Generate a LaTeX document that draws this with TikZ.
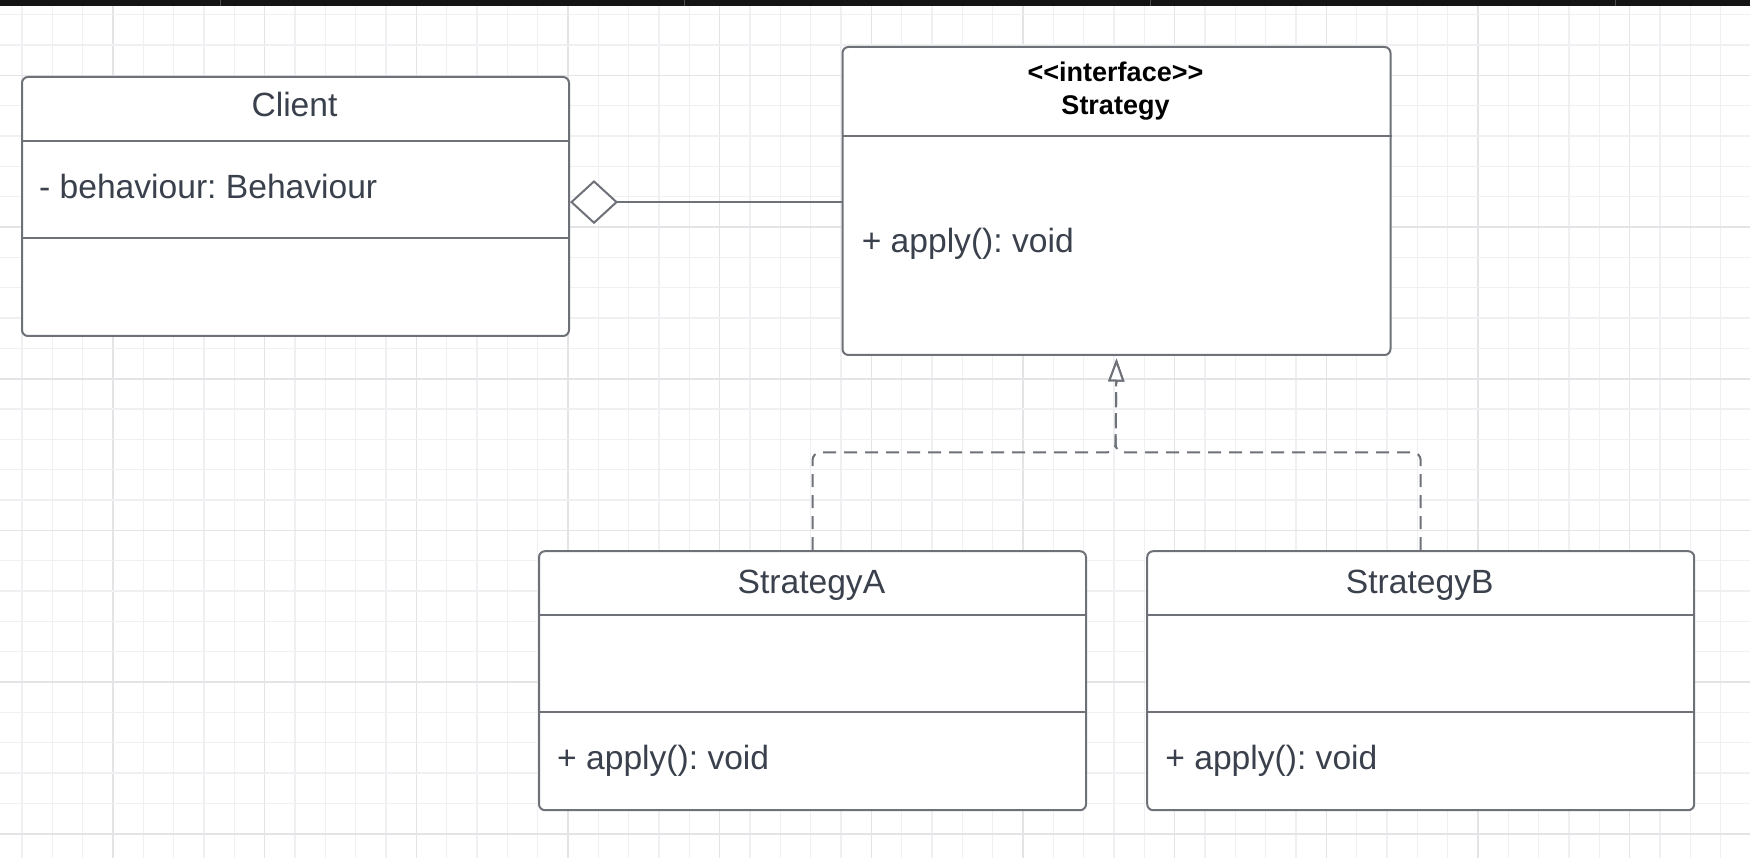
\documentclass[tikz,border=0pt]{standalone}
\usepackage{fontspec}
\setmainfont{Liberation Sans}
\usetikzlibrary{arrows.meta}
\frenchspacing
\definecolor{boxline}{RGB}{110,113,120}
\definecolor{txtcol}{RGB}{58,65,76}
\definecolor{gridmaj}{RGB}{228,228,231}
\definecolor{gridmin}{RGB}{240,240,242}
\tikzset{
  classbox/.style={draw=boxline, line width=2pt, fill=white, rounded corners=6pt, inner sep=0pt, anchor=north west},
  divider/.style={draw=boxline, line width=2pt},
  txt/.style={inner sep=0pt, text=txtcol, font=\fontsize{33.6pt}{40pt}\selectfont},
  btxt/.style={inner sep=0pt, text=black, font=\fontsize{27pt}{32pt}\selectfont\bfseries, anchor=base},
  majline/.style={draw=gridmaj, line width=1.6pt},
  minline/.style={draw=gridmin, line width=1.4pt},
  aggr/.style={draw=boxline, line width=2pt, {Diamond[fill=white, length=48pt, width=44pt]}-},
  realiz/.style={draw=boxline, line width=2pt, dash pattern=on 13pt off 8pt, rounded corners=8pt, -{Triangle[fill=white, length=23pt, width=16pt]}}
}
\begin{document}
\begin{tikzpicture}[x=1pt, y=-1pt]
\useasboundingbox (0,0) rectangle (1750,858);
\fill[white] (0,0) rectangle (1750,858);
% grid
\foreach \n in {-4,...,54} {
  \pgfmathsetmacro\gx{113+30.333*\n}
  \pgfmathtruncatemacro\m{mod(\n+100,5)}
  \ifnum\m=0 \draw[majline] (\gx,0) -- (\gx,858); \else \draw[minline] (\gx,0) -- (\gx,858); \fi
}
\foreach \n in {-13,...,16} {
  \pgfmathsetmacro\gy{378.7+30.333*\n}
  \pgfmathtruncatemacro\m{mod(\n+100,5)}
  \ifnum\m=0 \draw[majline] (0,\gy) -- (1750,\gy); \else \draw[minline] (0,\gy) -- (1750,\gy); \fi
}
% top bar
\fill[black!92] (0,0) rectangle (1750,6.5);
\foreach \bx in {220,684,1150,1615} { \draw[black!70, line width=1pt] (\bx,0) -- (\bx,6.5); }

% Client
\node[classbox, minimum width=547pt, minimum height=259pt] (client) at (21,76) {};
\draw[divider] (client.west |- 0,140.6) -- (client.east |- 0,140.6);
\draw[divider] (client.west |- 0,237.7) -- (client.east |- 0,237.7);
\node[txt, anchor=base] (clientname) at (294.5,117) {Client};
\node[txt, anchor=base west] (clientattr) at (39,198.5) {- behaviour: Behaviour};

% Strategy interface
\node[classbox, minimum width=548pt, minimum height=308pt] (strategy) at (841.5,46) {};
\draw[divider] (strategy.west |- 0,136.2) -- (strategy.east |- 0,136.2);
\node[btxt] (stereo) at (1115.5,82) {<{}<interface>{}>};
\node[btxt] (stratname) at (1115.5,114.5) {Strategy};
\node[txt, anchor=base west] (stratop) at (861.6,253) {+ apply(): void};

% StrategyA
\node[classbox, minimum width=547pt, minimum height=259pt] (sa) at (538,550.2) {};
\draw[divider] (sa.west |- 0,615) -- (sa.east |- 0,615);
\draw[divider] (sa.west |- 0,712.1) -- (sa.east |- 0,712.1);
\node[txt, anchor=base] (saname) at (811.4,593.5) {StrategyA};
\node[txt, anchor=base west] (saop) at (557,769.8) {+ apply(): void};

% StrategyB
\node[classbox, minimum width=547pt, minimum height=259pt] (sb) at (1146.2,550.2) {};
\draw[divider] (sb.west |- 0,615) -- (sb.east |- 0,615);
\draw[divider] (sb.west |- 0,712.1) -- (sb.east |- 0,712.1);
\node[txt, anchor=base] (sbname) at (1419.7,593.5) {StrategyB};
\node[txt, anchor=base west] (sbop) at (1165.2,769.8) {+ apply(): void};

% aggregation
\draw[aggr] ([yshift=4.4pt]client.east) -- ([yshift=4.4pt]client.east -| strategy.west);

% realization
\coordinate (junc) at (1115.5,452.3);
\coordinate (tip) at ([yshift=-2.5pt]strategy.south);
\draw[realiz] (sa.north) |- (junc) -- (tip);
\draw[realiz] (sb.north) |- (junc) -- (tip);
\end{tikzpicture}
\end{document}
